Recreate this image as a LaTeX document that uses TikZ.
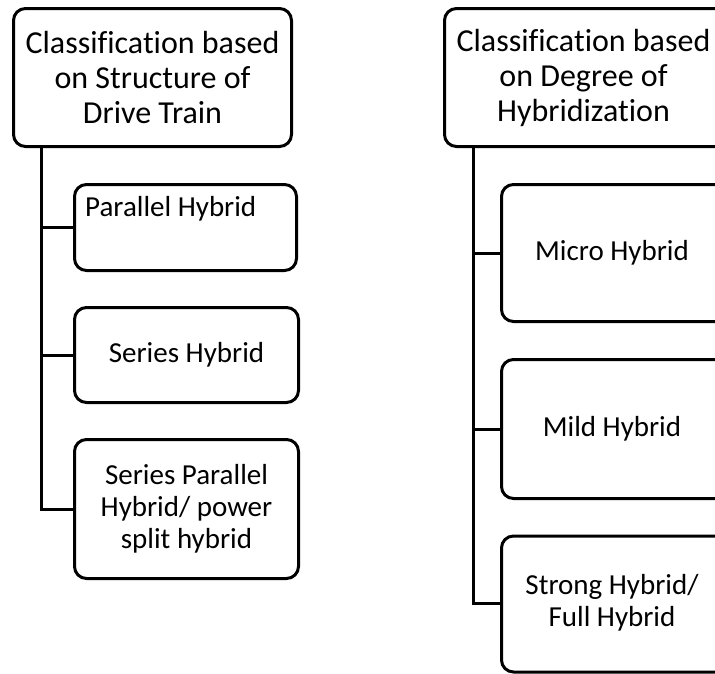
\documentclass[tikz,border=0pt]{standalone}
\usepackage{fontspec}
\setmainfont{Carlito}[Ligatures=NoCommon]
\begin{document}
\begin{tikzpicture}[x=1pt,y=-1pt,
  box/.style={draw=black, line width=3pt, rounded corners=12pt, fill=white, inner sep=0pt, align=center},
  headtxt/.style={font=\fontsize{32}{35}\selectfont},
  boxtxt/.style={font=\fontsize{29}{32}\selectfont},
  conn/.style={draw=black, line width=3pt}]
\useasboundingbox (0,0) rectangle (715,673);
% headers
\node[box, headtxt, minimum width=278pt, minimum height=138pt] (h1) at (152.5,77.5)
  {Classification based\\on Structure of\\Drive Train};
\node[box, headtxt, minimum width=290pt, minimum height=138pt] (h2) at (589.5,77.5)
  {\hspace*{-12pt}Classification based\\\hspace*{-12pt}on Degree of\\\hspace*{-12pt}Hybridization};
% left children
\node[box, minimum width=222pt, minimum height=86pt] (p) at (185.5,227.5) {};
\node[boxtxt, anchor=west, inner sep=0pt] (pt) at (85,209) {Parallel Hybrid};
\node[box, boxtxt, minimum width=224pt, minimum height=95pt] (s) at (186.5,355) {Series Hybrid};
\node[box, boxtxt, minimum width=224pt, minimum height=139pt] (sp) at (186.5,509)
  {Series Parallel\\Hybrid/ power\\split hybrid};
% right children
\node[box, boxtxt, minimum width=231pt, minimum height=137pt] (mi) at (617,253) {\hspace*{-10pt}Micro Hybrid};
\node[box, boxtxt, minimum width=231pt, minimum height=139pt] (mh) at (617,429) {\hspace*{-10pt}Mild Hybrid};
\node[box, minimum width=231pt, minimum height=136pt] (st) at (617,604) {};
\node[boxtxt, align=center, inner sep=0pt] (stt) at (612,603) {Strong Hybrid/\\Full Hybrid};
% trunks
\coordinate (tl) at (41,148);
\coordinate (tr) at (473,148);
\draw[conn] (tl) |- (sp.west);
\draw[conn] (tl |- p.west) -- (p.west);
\draw[conn] (tl |- s.west) -- (s.west);
\draw[conn] (tr) |- (st.west |- stt);
\draw[conn] (tr |- mi.west) -- (mi.west);
\draw[conn] (tr |- mh.west) -- (mh.west);
\end{tikzpicture}
\end{document}
